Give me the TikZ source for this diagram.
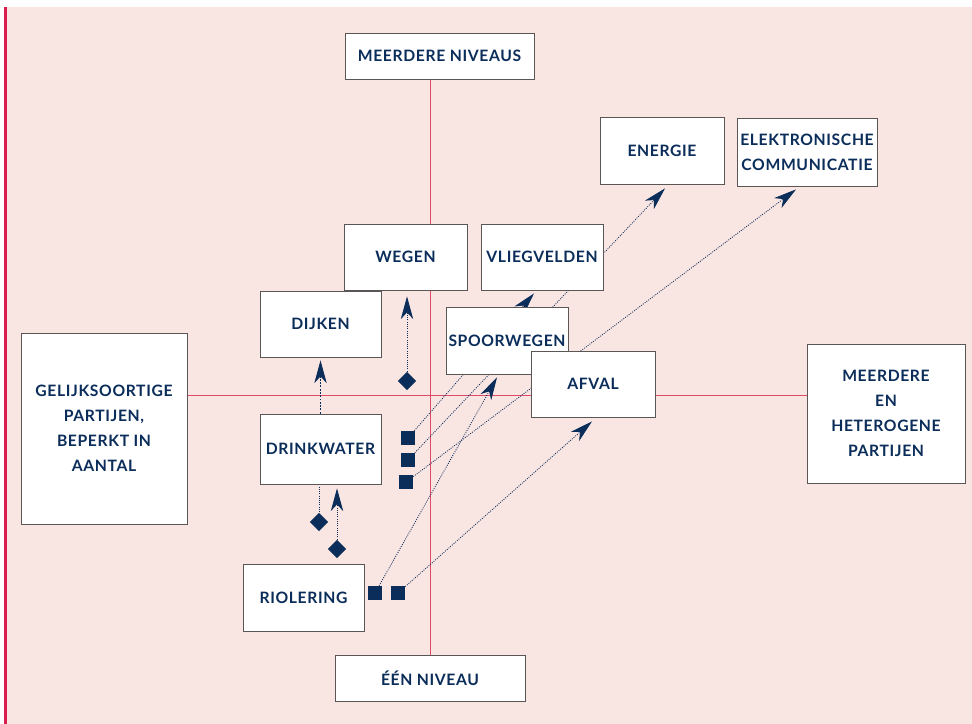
\documentclass[tikz,border=0pt]{standalone}
\usepackage{fontspec}
\setmainfont{Lato}
\newfontfamily\boxfont{Lato}[LetterSpace=4]
\usepackage{tikz}
\usetikzlibrary{shapes,arrows,positioning,calc,arrows.meta}
\definecolor{navy}{HTML}{0B2D5A}
\definecolor{bgpink}{HTML}{F9E5E2}
\definecolor{axisred}{HTML}{E04A66}
\definecolor{barred}{HTML}{D81E4C}
\definecolor{boxgray}{HTML}{5A5656}
\pgfdeclarelayer{back}
\pgfdeclarelayer{links}
\pgfsetlayers{back,links,main}
\tikzset{
    box/.style 2 args={draw=boxgray, fill=white, line width=0.7pt, align=center,
        text=navy, inner sep=0pt, minimum width=#1*0.03cm, minimum height=#2*0.03cm,
        font=\boxfont\bfseries\fontsize{13.4}{21.3}\selectfont},
    link/.style={navy, line width=0.7pt, dash pattern=on 0.8pt off 1.1pt},
    arr/.style={link, -{Stealth[length=0.68cm, width=0.37cm, inset=0.2cm]}},
    sq/.style={fill=navy, inner sep=0pt, minimum size=0.42cm},
    dm/.style={diamond, fill=navy, inner sep=0pt, minimum size=0.55cm},
}
\begin{document}
\begin{tikzpicture}[x=0.03cm, y=-0.03cm]
    \useasboundingbox (0,0) rectangle (972,724);
    % boxes
    \node[box={189}{46}] (top) at (439.5,56) {MEERDERE NIVEAUS};
    \node[box={190}{46}] (bot) at (430,678) {ÉÉN NIVEAU};
    \node[box={166}{191}] (left) at (104,428.5) {GELIJKSOORTIGE\\PARTIJEN,\\BEPERKT IN\\AANTAL};
    \node[box={158}{139}] (right) at (886,413.5) {MEERDERE\\EN\\HETEROGENE\\PARTIJEN};
    \node[box={124}{67}] (energie) at (662,150.5) {ENERGIE};
    \node[box={140}{68}] (elek) at (807,152) {ELEKTRONISCHE\\COMMUNICATIE};
    \node[box={123}{66}] (wegen) at (405.5,257) {WEGEN};
    \node[box={122}{66}] (vlieg) at (542,257) {VLIEGVELDEN};
    \node[box={121}{66}] (dijken) at (320.5,324) {DIJKEN};
    \node[box={122}{67}] (spoor) at (507,340.5) {SPOORWEGEN};
    \node[box={124}{66}] (afval) at (593,384) {AFVAL};
    \node[box={121}{70}] (drink) at (320.5,449) {DRINKWATER};
    \node[box={121}{67}] (riool) at (303.5,597.5) {RIOLERING};
    % markers
    \node[dm] (dm1) at (407,381) {};
    \node[dm] (dm2) at (319,522) {};
    \node[dm] (dm3) at (337,549) {};
    \node[sq] (sq1) at (408,438) {};
    \node[sq] (sq2) at (408,460) {};
    \node[sq] (sq3) at (406,482) {};
    \node[sq] (sqa) at (375,593) {};
    \node[sq] (sqb) at (398,593) {};
    \coordinate (c) at (430,395);
    \begin{pgfonlayer}{back}
        \fill[bgpink] (7,7) rectangle (972,724);
        \fill[barred] (4,7) rectangle (7,724);
        \draw[axisred, line width=0.6pt] (c -| left.east) -- (c -| right.west);
        \draw[axisred, line width=0.6pt] (c |- top.south) -- (c |- bot.north);
    \end{pgfonlayer}
    \begin{pgfonlayer}{links}
        \draw[arr, dash pattern=on 1.6pt off 1.2pt] (drink.north) -- ($(dijken.south)+(0,3)$);
        \draw[arr] (dm1) -- ($(dm1 |- wegen.south)+(0,6)$);
        \draw[link] (drink.south -| dm2) -- (dm2);
        \draw[arr] (dm3) -- ($(dm3 |- drink.south)+(0,4)$);
        \draw[arr] (sq1) -- ($(vlieg.south)+(-8,3)$);
        \draw[arr] (sq2) -- ($(energie.south)+(3,4)$);
        \draw[arr] (sq3) -- ($(elek.south)+(-11,3)$);
        \draw[arr] (sqa) -- ($(spoor.south)+(-10,3)$);
        \draw[arr] (sqb) -- ($(afval.south)+(-1,4)$);
    \end{pgfonlayer}
\end{tikzpicture}
\end{document}
